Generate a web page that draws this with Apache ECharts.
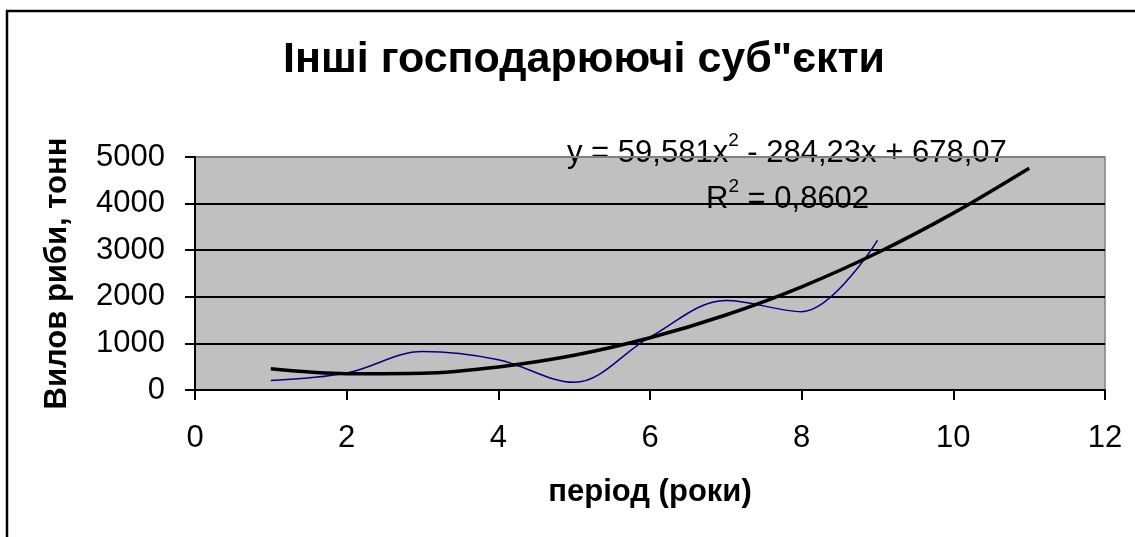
<!DOCTYPE html>
<html>
<head>
<meta charset="utf-8">
<title>Інші господарюючі суб"єкти</title>
<script src="https://cdn.jsdelivr.net/npm/echarts@6/dist/echarts.min.js"></script>
<style>
  html, body { margin: 0; padding: 0; background: #fff; }
  #chart { width: 1135px; height: 537px; }
</style>
</head>
<body>
<div id="chart"></div>
<script>
// фактичні дані (період, вилов)
var periods = [1, 2, 3, 4, 5, 6, 7, 8, 9];
var catchValues = [205, 365, 825, 650, 165, 1135, 1920, 1680, 3210];
// поліноміальний тренд
var trendPeriods = [1, 2, 3, 4, 5, 6, 7, 8, 9, 10, 11];
var trendValues = [455, 350, 360, 495, 745, 1120, 1610, 2215, 2945, 3795, 4760];
var yTicks = [0, 1000, 2000, 3000, 4000, 5000];
var xTicks = [0, 2, 4, 6, 8, 10, 12];

var FONT = "'Liberation Sans', Arial, sans-serif";

function pairs(xs, ys) {
  return xs.map(function (x, i) { return [x, ys[i]]; });
}

var chart = echarts.init(document.getElementById("chart"));
var option = {
  animation: false,
  backgroundColor: "#fff",
  textStyle: { fontFamily: FONT },
  title: {
    text: 'Інші господарюючі суб"єкти',
    left: 278,
    top: 34,
    textStyle: { fontFamily: FONT, fontSize: 43, fontWeight: "bold", color: "#000" },
  },
  grid: {
    left: 195,
    right: 30,
    top: 157,
    bottom: 147,
    show: true,
    backgroundColor: "#C0C0C0",
    borderColor: "#808080",
    borderWidth: 1.5,
  },
  xAxis: {
    type: "value",
    min: xTicks[0],
    max: xTicks[xTicks.length - 1],
    interval: 2,
    name: "період (роки)",
    nameLocation: "middle",
    nameGap: 87,
    nameTextStyle: { fontFamily: FONT, fontSize: 31, fontWeight: "bold", color: "#000" },
    axisLine: { lineStyle: { color: "#000", width: 2 } },
    axisTick: { show: true, length: 10, lineStyle: { color: "#000", width: 2 } },
    axisLabel: { margin: 33, fontFamily: FONT, fontSize: 31, color: "#000" },
    splitLine: { show: false },
  },
  yAxis: {
    type: "value",
    min: yTicks[0],
    max: yTicks[yTicks.length - 1],
    interval: 1000,
    name: "Вилов риби, тонн",
    nameLocation: "middle",
    nameGap: 122,
    nameRotate: 90,
    nameTextStyle: { fontFamily: FONT, fontSize: 31, fontWeight: "bold", color: "#000" },
    axisLine: { show: true, lineStyle: { color: "#000", width: 2 } },
    axisTick: { show: true, length: 10, lineStyle: { color: "#000", width: 2 } },
    axisLabel: {
      margin: 30,
      fontFamily: FONT,
      fontSize: 31,
      color: "#000",
      formatter: function (v) { return String(v); },
    },
    splitLine: {
      show: true,
      lineStyle: { color: ["#000", "#000", "#000", "#000", "#000", "#808080"], width: 2 },
    },
  },
  graphic: [
    {
      type: "rect",
      silent: true,
      shape: { x: 7, y: 11, width: 1200, height: 700 },
      style: { fill: null, stroke: "#000", lineWidth: 2.5 },
    },
    {
      type: "text",
      silent: true,
      left: 567,
      top: 131,
      style: {
        text: "{m|y = 59,581x}{s|2}{m| - 284,23x + 678,07}",
        rich: {
          m: { fontFamily: FONT, fontSize: 31, color: "#000", lineHeight: 38, verticalAlign: "bottom" },
          s: { fontFamily: FONT, fontSize: 19, color: "#000", lineHeight: 38, verticalAlign: "top" },
        },
      },
    },
    {
      type: "text",
      silent: true,
      left: 706,
      top: 177,
      style: {
        text: "{m|R}{s|2}{m| = 0,8602}",
        rich: {
          m: { fontFamily: FONT, fontSize: 31, color: "#000", lineHeight: 38, verticalAlign: "bottom" },
          s: { fontFamily: FONT, fontSize: 19, color: "#000", lineHeight: 38, verticalAlign: "top" },
        },
      },
    },
  ],
  series: [
    {
      name: "вилов",
      type: "line",
      data: pairs(periods, catchValues),
      smooth: 0.35,
      showSymbol: false,
      lineStyle: { color: "#000080", width: 1.5 },
      z: 3,
    },
    {
      name: "тренд",
      type: "line",
      data: pairs(trendPeriods, trendValues),
      smooth: 0.3,
      showSymbol: false,
      lineStyle: { color: "#000", width: 3.5 },
      z: 4,
    },
  ],
};
chart.setOption(option);
</script>
</body>
</html>
